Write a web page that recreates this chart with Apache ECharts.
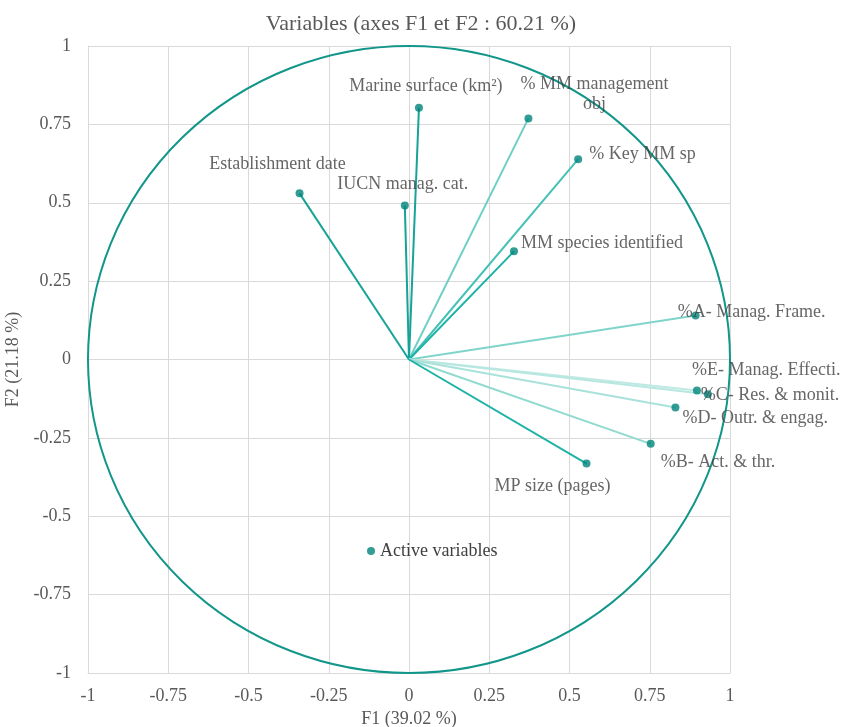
<!DOCTYPE html>
<html>
<head>
<meta charset="utf-8">
<script src="https://cdn.jsdelivr.net/npm/echarts@6/dist/echarts.min.js"></script>
<style>html,body{margin:0;padding:0;background:#fff}#c{width:842px;height:727px}</style>
</head>
<body>
<div id="c"></div>
<script>
// ---- data ----
const variables = [
  'Marine surface (km²)',
  '% MM management\nobj',
  '% Key MM sp',
  'Establishment date',
  'IUCN manag. cat.',
  'MM species identified',
  '%A- Manag. Frame.',
  '%E- Manag. Effecti.',
  '%C- Res. & monit.',
  '%D- Outr. & engag.',
  '%B- Act. & thr.',
  'MP size (pages)'
];
const f1 = [0.031, 0.372, 0.527, -0.341, -0.013, 0.327, 0.893, 0.897, 0.931, 0.830, 0.753, 0.553];
const f2 = [0.803, 0.769, 0.639, 0.530, 0.491, 0.345, 0.140, -0.099, -0.111, -0.153, -0.269, -0.332];
const axisTicks = [-1, -0.75, -0.5, -0.25, 0, 0.25, 0.5, 0.75, 1];

// ---- styling (not data) ----
const lineColors = ['#17A398', '#6FCFC4', '#45C1B5', '#17A398', '#17A398', '#1DB3A7',
                    '#7FD5CA', '#BFE9E3', '#B8E7E1', '#A9E2DA', '#90DAD0', '#1DB3A7'];
const labelPlacement = [
  ['top', [7, -2.5]], ['top', [66, 5]], ['right', [2, -5]], ['top', [-22, -10]],
  ['top', [-2, -2]], ['right', [-2, -8]], ['right', [-27, -3]], ['right', [-14, -20]],
  ['right', [-16, 1]], ['right', [-2, 11]], ['right', [1, 18]], ['bottom', [-34, 4]]
];
const FONT = 'Liberation Serif';

const chart = echarts.init(document.getElementById('c'));

const axisCommon = {
  type: 'value', min: axisTicks[0], max: axisTicks[axisTicks.length - 1], interval: 0.25,
  axisLine: { show: true, onZero: false, lineStyle: { color: '#d9d9d9', width: 1 } },
  axisTick: { show: false },
  splitLine: { show: true, lineStyle: { color: '#d9d9d9', width: 1 } },
  axisLabel: { color: '#595959', fontFamily: FONT, fontSize: 18 },
  nameLocation: 'middle',
  nameTextStyle: { color: '#595959', fontFamily: FONT, fontSize: 18 }
};

chart.setOption({
  animation: false,
  title: {
    text: 'Variables (axes F1 et F2 : 60.21 %)',
    left: 'center', top: 8,
    textStyle: { color: '#595959', fontFamily: FONT, fontSize: 22, fontWeight: 'normal' }
  },
  legend: {
    data: ['Active variables'],
    left: 362, top: 537,
    icon: 'circle', itemWidth: 8, itemHeight: 8, itemGap: 5,
    textStyle: { color: '#404040', fontFamily: FONT, fontSize: 18 }
  },
  grid: { left: 88, right: 112, top: 46, bottom: 54, containLabel: false, outerBoundsMode: 'none' },
  xAxis: Object.assign({}, axisCommon, {
    name: 'F1 (39.02 %)', nameGap: 37,
    axisLabel: Object.assign({}, axisCommon.axisLabel, { margin: 14 })
  }),
  yAxis: Object.assign({}, axisCommon, {
    name: 'F2 (21.18 %)', nameGap: 57, nameRotate: 90,
    axisLabel: Object.assign({}, axisCommon.axisLabel, { margin: 17 })
  }),
  series: [
    {
      type: 'custom',
      silent: true,
      z: 1,
      data: [[0, 0]],
      renderItem: function (params, api) {
        const c = api.coord([api.value(0), api.value(1)]);
        const s = api.size([1, 1]);
        const rx = s[0], ry = s[1];
        const d = 'M' + (c[0] - rx) + ' ' + c[1] +
          ' A' + rx + ' ' + ry + ' 0 1 0 ' + (c[0] + rx) + ' ' + c[1] +
          ' A' + rx + ' ' + ry + ' 0 1 0 ' + (c[0] - rx) + ' ' + c[1] + ' Z';
        return {
          type: 'path',
          shape: { pathData: d },
          style: { fill: 'none', stroke: '#13968A', lineWidth: 2 }
        };
      }
    },
    {
      type: 'lines',
      coordinateSystem: 'cartesian2d',
      silent: true,
      z: 2,
      symbol: 'none',
      data: variables.map((v, i) => ({
        coords: [[0, 0], [f1[i], f2[i]]],
        lineStyle: { color: lineColors[i], width: 2, opacity: 1 }
      }))
    },
    {
      name: 'Active variables',
      type: 'scatter',
      z: 3,
      symbol: 'circle',
      symbolSize: 8,
      itemStyle: { color: '#00857A' },
      data: variables.map((v, i) => ({
        value: [f1[i], f2[i]],
        name: v,
        label: {
          show: true,
          formatter: v,
          position: labelPlacement[i][0],
          offset: labelPlacement[i][1],
          distance: 5,
          align: labelPlacement[i][0] === 'right' ? 'left' : 'center',
          color: '#404040',
          fontFamily: FONT,
          fontSize: 18,
          lineHeight: 20
        }
      }))
    }
  ]
});
</script>
</body>
</html>
